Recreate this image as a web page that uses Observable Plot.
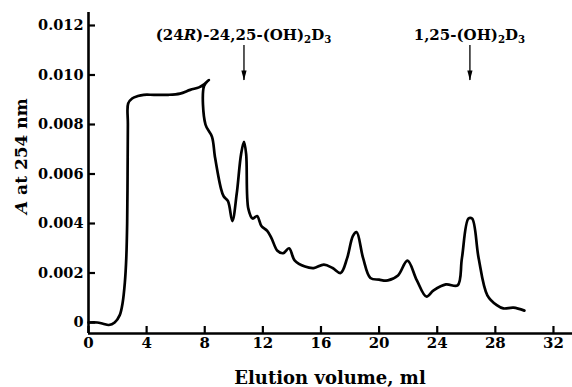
<!DOCTYPE html>
<html><head><meta charset="utf-8">
<script src="https://cdn.jsdelivr.net/npm/d3@7"></script>
<script src="https://cdn.jsdelivr.net/npm/@observablehq/plot@0.6"></script>
<style>
html,body{margin:0;padding:0;background:#fff}
svg{font-family:"DejaVu Serif",serif;font-weight:bold}
</style>
</head><body><div id="chart"></div>
<script>
// Elution profile (ml, absorbance at 254 nm)
const elutionMl = [0.0,0.6,1.0,1.4,1.8,2.15,2.35,2.5,2.6,2.66,2.69,2.71,2.73,3.0,3.4,3.8,4.5,5.5,6.3,7.0,7.6,7.9,8.28,7.95,
  8.05,8.5,8.7,9.1,9.3,9.6,9.9,10.2,10.5,10.7,10.85,11.0,11.3,11.6,11.9,12.3,12.6,13.0,13.4,13.8,14.2,14.9,15.5,16.2,16.8,17.35,
  17.8,18.2,18.45,18.9,19.4,20.0,20.6,21.3,21.95,22.6,23.25,23.75,24.6,25.4,25.7,26.15,26.4,26.85,27.45,28.1,28.55,29.25,30.0];
const absorbance = [0.0,0.0,-0.00005,-0.0001,0.0,0.0003,0.0008,0.0016,0.0026,0.004,0.0060,0.0080,0.00885,0.00905,0.00915,0.0092,0.0092,0.0092,0.00925,0.0094,0.0095,0.0096,0.0098,0.00955,
  0.0080,0.0075,0.0067,0.00545,0.0051,0.0049,0.0041,0.0052,0.0068,0.0073,0.0068,0.0046,0.0042,0.0043,0.0039,0.0037,0.0034,0.0029,0.0028,0.0030,0.0025,0.00226,0.0022,0.00234,0.0022,0.0020,
  0.0026,0.0035,0.00365,0.0026,0.0018,0.00173,0.0017,0.0019,0.0025,0.0017,0.00105,0.0013,0.00154,0.0015,0.0026,0.0042,0.0042,0.0026,0.0011,0.0007,0.00057,0.0006,0.00048];

const xTicks = [0,4,8,12,16,20,24,28,32];
const yTicks = [0,0.002,0.004,0.006,0.008,0.010,0.012];
const xDomain = [0, 33.31];
const yDomain = [-0.000444, 0.012525];

const xTitle = "Elution volume, ml";
const yTitleParts = [["A","i"],[" at 254 nm",""]];

// Annotations: position (ml), arrow top/tip (absorbance units), label segments
const annoMl = [10.7, 26.25];
const annoArrowTop = 0.01119;
const annoArrowTip = 0.00978;
const annoLabelY = 0.01138;
const annoParts = [
  [["(24",""],["R","i"],[")-24,25-(OH)",""],["2","s"],["D",""],["3","s"]],
  [["1,25-(OH)",""],["2","s"],["D",""],["3","s"]]
];

const curveData = elutionMl.map((m,i)=>({ml:m, a:absorbance[i]}));
const annos = annoMl.map((m,i)=>({ml:m, parts:annoParts[i]}));

const arrowHead = {draw(ctx){ctx.moveTo(0,0);ctx.lineTo(-2.6,-10);ctx.lineTo(2.6,-10);ctx.closePath();}};

const plot = Plot.plot({
  width: 572, height: 387,
  marginLeft: 88, marginRight: 0, marginTop: 12, marginBottom: 54,
  style: {fontFamily: "DejaVu Serif", fontWeight: "bold", fontSize: "14.5px", color: "#000", background: "#fff", overflow: "visible"},
  x: {domain: xDomain},
  y: {domain: yDomain},
  marks: [
    Plot.ruleX([xDomain[0]], {strokeWidth: 2.6}),
    Plot.ruleY([yDomain[0]], {strokeWidth: 2.6}),
    Plot.axisX(xTicks, {tickSize: -7, tickPadding: 11, strokeWidth: 2.2, label: null, fontSize: 15}),
    Plot.axisY(yTicks, {tickSize: -7, tickPadding: 12, strokeWidth: 2.2, label: null, fontSize: 14.5,
      tickFormat: d => d === 0 ? "0" : d.toFixed(3)}),
    Plot.line(curveData, {x: "ml", y: "a", stroke: "#000", strokeWidth: 2.7, curve: "catmull-rom", strokeLinejoin: "round"}),
    Plot.ruleX(annos, {x: "ml", y1: annoArrowTop, y2: annoArrowTip, strokeWidth: 1.3}),
    Plot.dot(annos, {x: "ml", y: annoArrowTip, symbol: arrowHead, fill: "#000", stroke: "none", r: 3})
  ]
});
document.getElementById("chart").appendChild(plot);

const sx = plot.scale("x"), sy = plot.scale("y");
const svg = d3.select(plot);
function addParts(textSel, parts, size){
  parts.forEach(([t, k]) => {
    const ts = textSel.append("tspan").text(t);
    if (k === "i") ts.attr("font-style", "italic");
    if (k === "s") ts.attr("font-size", size*0.68).attr("baseline-shift", "-30%");
  });
}
annos.forEach(a => {
  const t = svg.append("text")
    .attr("x", sx.apply(a.ml)).attr("y", sy.apply(annoLabelY))
    .attr("text-anchor", "middle").attr("font-size", 15).attr("fill", "#000");
  addParts(t, a.parts, 15);
});
svg.append("text")
  .attr("x", (88 + 572) / 2).attr("y", 384)
  .attr("text-anchor", "middle").attr("font-size", 18).attr("fill", "#000")
  .text(xTitle);
const yt = svg.append("text")
  .attr("transform", `translate(27,${sy.apply(0.0067)}) rotate(-90)`)
  .attr("text-anchor", "middle").attr("font-size", 17).attr("fill", "#000");
addParts(yt, yTitleParts, 17);
</script>
</body></html>
